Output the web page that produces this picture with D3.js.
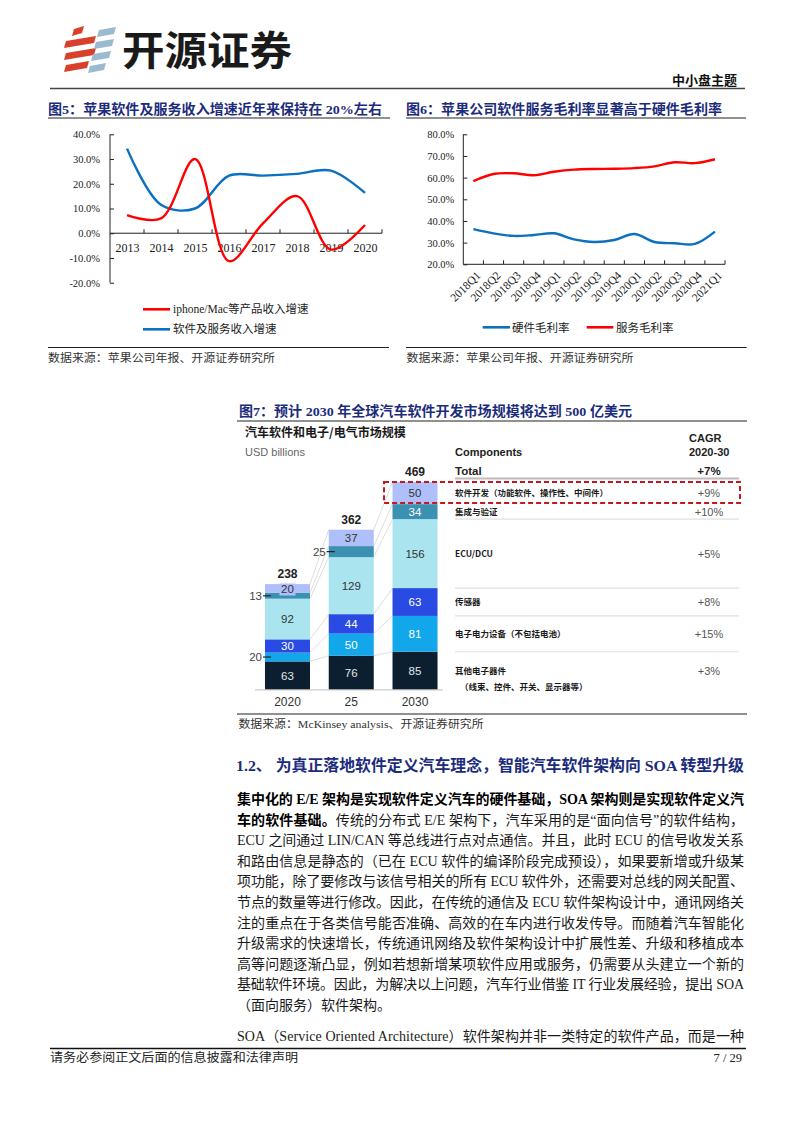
<!DOCTYPE html>
<html><head><meta charset="utf-8">
<script src="https://cdn.jsdelivr.net/npm/d3@7"></script>
<style>body{margin:0;background:#fff}svg{display:block}</style>
</head><body><svg id="c" width="794" height="1123"></svg>
<script>
// ---------------- DATA ----------------
const years5 = ['2013','2014','2015','2016','2017','2018','2019','2020'];
const hwGrowth5 = [7.3, 6.0, 30.0, -11.3, 4.0, 15.0, -6.6, 3.3];      // iphone/Mac等产品收入增速
const svcGrowth5 = [34.2, 11.5, 10.0, 23.3, 23.3, 24.0, 25.3, 16.3];  // 软件及服务收入增速
const yTicks5 = [-20, -10, 0, 10, 20, 30, 40];

const quarters6 = ['2018Q1','2018Q2','2018Q3','2018Q4','2019Q1','2019Q2','2019Q3','2019Q4','2020Q1','2020Q2','2020Q3','2020Q4','2021Q1'];
const hwMargin6 = [36.2, 34.3, 33.1, 33.5, 34.3, 31.5, 30.3, 31.2, 34.0, 30.3, 29.7, 29.4, 35.1];
const svcMargin6 = [58.4, 61.7, 62.0, 61.1, 62.7, 63.7, 64.0, 64.1, 64.4, 65.2, 67.1, 66.7, 68.5];
const yTicks6 = [20, 30, 40, 50, 60, 70, 80];

const years7 = ['2020', '25', '2030'];
const totals7 = [238, 362, 469];
const segOther7 = [63, 76, 85];
const segPower7 = [20, 50, 81];
const segSensor7 = [30, 44, 63];
const segEcu7 = [92, 129, 156];
const segInteg7 = [13, 25, 34];
const segSw7 = [20, 37, 50];
const compKeys7 = ['other', 'power', 'sensor', 'ecu', 'integ', 'sw'];
const compNames7 = ['其他电子器件', '电子电力设备（不包括电池）', '传感器', 'ECU/DCU', '集成与验证', '软件开发（功能软件、操作性、中间件）'];
const cagr7 = ['+3%', '+15%', '+8%', '+5%', '+10%', '+9%'];
const totalCagr7 = '+7%';

// ---------------- SETUP ----------------
const svg = d3.select('#c');
const SERIF = '"Liberation Serif","Times New Roman","Noto Sans CJK SC",serif';
const SANS = '"Liberation Sans",Arial,"Noto Sans CJK SC",sans-serif';
const CJK = '"Noto Sans CJK SC","Liberation Sans",sans-serif';
const TITLE_C = '#1c2c7c';
const RED = '#ff0000', BLUE = '#0a70c0';

function txt(g, x, y, s, o = {}) {
  const t = g.append('text').attr('x', x).attr('y', y).text(s)
    .attr('font-family', o.ff || SERIF).attr('font-size', o.fs || 12)
    .attr('fill', o.fill || '#222').attr('text-anchor', o.anchor || 'start');
  if (o.fw) t.attr('font-weight', o.fw);
  if (o.len) t.attr('textLength', o.len).attr('lengthAdjust', 'spacingAndGlyphs');
  return t;
}
function hline(x1, x2, y, c, w) {
  svg.append('line').attr('x1', x1).attr('x2', x2).attr('y1', y).attr('y2', y)
    .attr('stroke', c).attr('stroke-width', w);
}

// ---------------- HEADER ----------------
const logo = svg.append('g');
const redBars = [
  [[74,29],[84,26],[82,33],[72,36]],
  [[66,41],[96,36],[94,43],[64,48]],
  [[66,53],[96,48],[94,55],[64,60]],
  [[66,65],[89,61],[87,68],[64,72]]
];
const blueBars = [
  [[99,30],[116,27],[114,34],[97,37]],
  [[96,42],[114,39],[112,46],[94,49]],
  [[93,54],[111,51],[109,58],[91,61]],
  [[90,66],[106,63],[104,70],[88,73]]
];
redBars.forEach(p => logo.append('polygon').attr('points', p.join(' ')).attr('fill', '#d8402c'));
blueBars.forEach(p => logo.append('polygon').attr('points', p.join(' ')).attr('fill', '#9bbad0'));
txt(svg, 122, 65, '开源证券', {ff: CJK, fs: 40, fw: 'bold', fill: '#1a1a1a', len: 170});
txt(svg, 737, 85, '中小盘主题', {ff: CJK, fs: 13, fw: 'bold', fill: '#111', anchor: 'end', len: 65});
hline(50, 745, 88.5, '#444', 1.6);

// ---------------- CHART 5 ----------------
txt(svg, 48, 113.5, '图5：苹果软件及服务收入增速近年来保持在 20%左右', {fs: 13.5, fw: 'bold', fill: TITLE_C, len: 334});
hline(48, 390, 118, '#222', 1.2);

const c5 = svg.append('g');
const x5 = d3.scalePoint().domain(years5).range([110, 382]).padding(0.5);
const x5b = d3.scaleBand().domain(years5).range([110, 382]);
const y5 = d3.scaleLinear().domain([-20, 40]).range([282.7, 134.3]);

const ya5 = c5.append('g').attr('transform', 'translate(110,0)')
  .call(d3.axisLeft(y5).tickValues(yTicks5).tickSize(-4).tickPadding(10).tickFormat(d => d.toFixed(1) + '%'));
ya5.select('.domain').attr('stroke', '#222').attr('d', `M0,${y5(-20)}V${y5(40)}`);
ya5.selectAll('.tick line').attr('stroke', '#222');
ya5.selectAll('text').attr('font-family', SERIF).attr('font-size', 10.5).attr('fill', '#222');

const xa5 = c5.append('g').attr('transform', `translate(0,${y5(0)})`)
  .call(d3.axisBottom(x5).tickSize(0).tickPadding(10));
xa5.select('.domain').attr('stroke', '#222').attr('d', `M110,0H382`);
xa5.selectAll('text').attr('font-family', SERIF).attr('font-size', 12).attr('fill', '#222');
years5.forEach(d => {
  c5.append('line').attr('x1', x5b(d) + x5b.bandwidth()).attr('x2', x5b(d) + x5b.bandwidth())
    .attr('y1', y5(0)).attr('y2', y5(0) - 4).attr('stroke', '#222');
});

const line5 = d3.line().x((d, i) => x5(years5[i])).y(d => y5(d)).curve(d3.curveCatmullRom.alpha(0.5));
c5.append('path').attr('d', line5(svcGrowth5)).attr('fill', 'none').attr('stroke', BLUE).attr('stroke-width', 2.4);
c5.append('path').attr('d', line5(hwGrowth5)).attr('fill', 'none').attr('stroke', RED).attr('stroke-width', 2.4);

// legend
[[RED, 'iphone/Mac等产品收入增速', 309.3], [BLUE, '软件及服务收入增速', 329.3]].forEach(([c, s, y]) => {
  c5.append('line').attr('x1', 143).attr('x2', 170).attr('y1', y).attr('y2', y).attr('stroke', c).attr('stroke-width', 2.6);
  txt(c5, 173, y + 4, s, {fs: 11.5, fill: '#222'});
});
hline(48, 389, 347.5, '#222', 1.2);
txt(svg, 48, 362, '数据来源：苹果公司年报、开源证券研究所', {fs: 11, fill: '#333', len: 227});

// ---------------- CHART 6 ----------------
txt(svg, 406, 113.5, '图6：苹果公司软件服务毛利率显著高于硬件毛利率', {fs: 13.5, fw: 'bold', fill: TITLE_C, len: 316});
hline(406, 746, 118, '#222', 1.2);

const c6 = svg.append('g');
const x6 = d3.scaleBand().domain(quarters6).range([463.3, 725]);
const y6 = d3.scaleLinear().domain([20, 80]).range([264.3, 134.3]);
const ya6 = c6.append('g').attr('transform', 'translate(463.3,0)')
  .call(d3.axisLeft(y6).tickValues(yTicks6).tickSize(-4).tickPadding(9).tickFormat(d => d.toFixed(1) + '%'));
ya6.select('.domain').attr('stroke', '#222').attr('d', `M0,${y6(20)}V${y6(80)}`);
ya6.selectAll('.tick line').attr('stroke', '#222');
ya6.selectAll('text').attr('font-family', SERIF).attr('font-size', 10.5).attr('fill', '#222');

hline(463.3, 725, y6(20), '#222', 1);
quarters6.forEach(d => {
  const xe = x6(d) + x6.bandwidth();
  c6.append('line').attr('x1', xe).attr('x2', xe).attr('y1', y6(20)).attr('y2', y6(20) - 4).attr('stroke', '#222');
  const cx = x6(d) + x6.bandwidth() / 2;
  c6.append('text').attr('transform', `translate(${cx + 5},${y6(20) + 9}) rotate(-45)`)
    .attr('text-anchor', 'end').attr('dy', '0.35em').text(d)
    .attr('font-family', SERIF).attr('font-size', 11.5).attr('fill', '#222');
});
const line6 = d3.line().x((d, i) => x6(quarters6[i]) + x6.bandwidth() / 2).y(d => y6(d)).curve(d3.curveCatmullRom.alpha(0.5));
c6.append('path').attr('d', line6(hwMargin6)).attr('fill', 'none').attr('stroke', BLUE).attr('stroke-width', 2.4);
c6.append('path').attr('d', line6(svcMargin6)).attr('fill', 'none').attr('stroke', RED).attr('stroke-width', 2.4);

[[BLUE, '硬件毛利率', 482.7, 510, 512], [RED, '服务毛利率', 586.7, 613.3, 616]].forEach(([c, s, a, b, tx]) => {
  c6.append('line').attr('x1', a).attr('x2', b).attr('y1', 327.3).attr('y2', 327.3).attr('stroke', c).attr('stroke-width', 2.6);
  txt(c6, tx, 331.5, s, {fs: 11.5, fill: '#222'});
});
hline(406, 746.7, 347.5, '#222', 1.2);
txt(svg, 406.5, 362, '数据来源：苹果公司年报、开源证券研究所', {fs: 11, fill: '#333', len: 227});

// ---------------- CHART 7 ----------------
txt(svg, 239, 415.5, '图7：预计 2030 年全球汽车软件开发市场规模将达到 500 亿美元', {fs: 13.5, fw: 'bold', fill: TITLE_C, len: 393});
hline(237, 747, 421, '#222', 1.2);

const c7 = svg.append('g');
txt(c7, 245, 437, '汽车软件和电子/电气市场规模', {ff: CJK, fs: 12, fw: 'bold', fill: '#1a1a1a'});
txt(c7, 245, 455.5, 'USD billions', {ff: SANS, fs: 11, fill: '#666'});
txt(c7, 455, 455.5, 'Components', {ff: SANS, fs: 11, fw: 'bold', fill: '#222'});
txt(c7, 689, 441.5, 'CAGR', {ff: SANS, fs: 11, fw: 'bold', fill: '#222'});
txt(c7, 689, 455.5, '2020-30', {ff: SANS, fs: 11, fw: 'bold', fill: '#222'});
txt(c7, 455, 475, 'Total', {ff: SANS, fs: 11.5, fw: 'bold', fill: '#222'});
txt(c7, 709, 475, totalCagr7, {ff: SANS, fs: 11.5, fw: 'bold', fill: '#222', anchor: 'middle'});
c7.append('line').attr('x1', 455).attr('x2', 739).attr('y1', 478.5).attr('y2', 478.5).attr('stroke', '#bbb').attr('stroke-width', 2);

const rows7 = years7.map((y, j) => ({year: y, other: segOther7[j], power: segPower7[j], sensor: segSensor7[j], ecu: segEcu7[j], integ: segInteg7[j], sw: segSw7[j]}));
const stack7 = d3.stack().keys(compKeys7)(rows7);
const x7 = d3.scaleBand().domain(years7).range([255.6, 446.9]).paddingInner(0.294).paddingOuter(0.147);
const y7 = d3.scaleLinear().domain([0, 500]).range([689.3, 689.3 - 221]);
const bw = x7.bandwidth();
const colors7 = {other: '#0b1f30', power: '#12a6ea', sensor: '#2a4ae4', ecu: '#aae4ef', integ: '#3b91b2', sw: '#afbff9'};
const labCol7 = {other: '#e6e6e6', power: '#ffffff', sensor: '#ffffff', ecu: '#333', integ: '#ffffff', sw: '#333'};

// connectors
for (let j = 0; j < years7.length - 1; j++) {
  stack7.forEach(layer => {
    c7.append('line')
      .attr('x1', x7(years7[j]) + bw).attr('y1', y7(layer[j][1]))
      .attr('x2', x7(years7[j + 1])).attr('y2', y7(layer[j + 1][1]))
      .attr('stroke', '#d4d4d4').attr('stroke-width', 0.8);
  });
}
// axis baseline
c7.append('line').attr('x1', 255).attr('x2', 443).attr('y1', y7(0) + 0.5).attr('y2', y7(0) + 0.5).attr('stroke', '#ccc').attr('stroke-width', 1.2);

stack7.forEach(layer => {
  const k = layer.key;
  c7.selectAll(null).data(layer).enter().append('rect')
    .attr('x', (d, j) => x7(years7[j])).attr('width', bw)
    .attr('y', d => y7(d[1])).attr('height', d => y7(d[0]) - y7(d[1]))
    .attr('fill', colors7[k]);
});
stack7.forEach(layer => {
  const k = layer.key;
  layer.forEach((d, j) => {
    const v = d[1] - d[0];
    const h = y7(d[0]) - y7(d[1]);
    const cx = x7(years7[j]) + bw / 2;
    const cy = (y7(d[0]) + y7(d[1])) / 2;
    if (h < 12 && k !== 'sw') {
      const xl = x7(years7[j]);
      txt(c7, xl - 3, cy + 4, String(v), {ff: SANS, fs: 11.5, fill: '#444', anchor: 'end'});
      c7.append('line').attr('x1', xl - 2).attr('x2', xl + 6).attr('y1', cy).attr('y2', cy).attr('stroke', '#222').attr('stroke-width', 1.2);
    } else {
      if (h < 12) {
        c7.append('rect').attr('x', cx - 8).attr('y', cy - 5).attr('width', 16).attr('height', 12).attr('fill', colors7[k]);
      }
      txt(c7, cx, cy + 4.2, String(v), {ff: SANS, fs: 11.5, fill: labCol7[k], anchor: 'middle'});
    }
  });
});
totals7.forEach((t, j) => {
  txt(c7, x7(years7[j]) + bw / 2, y7(stack7[stack7.length - 1][j][1]) - 6, String(t), {ff: SANS, fs: 12, fw: 'bold', fill: '#222', anchor: 'middle'});
  txt(c7, x7(years7[j]) + bw / 2, 706, years7[j], {ff: SANS, fs: 12, fill: '#333', anchor: 'middle'});
});

// table rows aligned with 2030 segments
const last = years7.length - 1;
stack7.forEach((layer, i) => {
  const d = layer[last];
  const cy = (y7(d[0]) + y7(d[1])) / 2;
  if (i < stack7.length - 2) {
    c7.append('line').attr('x1', 455).attr('x2', 739).attr('y1', y7(d[1])).attr('y2', y7(d[1])).attr('stroke', '#e0e0e0').attr('stroke-width', 1.2);
  }
  txt(c7, 455, cy + 3, compNames7[i], {ff: CJK, fs: 8.5, fw: 'bold', fill: '#1a1a1a'});
  txt(c7, 709, cy + 4, cagr7[i], {ff: SANS, fs: 11, fill: '#555', anchor: 'middle'});
  if (layer.key === 'other') {
    txt(c7, 460, cy + 19, '（线束、控件、开关、显示器等）', {ff: CJK, fs: 8.5, fw: 'bold', fill: '#1a1a1a'});
  }
});
// dashed highlight box around software row
const swTop = y7(stack7[stack7.length - 1][last][1]);
const swBot = y7(stack7[stack7.length - 1][last][0]);
c7.append('rect').attr('x', 384).attr('y', swTop).attr('width', 356).attr('height', swBot - swTop - 1)
  .attr('fill', 'none').attr('stroke', '#c8161d').attr('stroke-width', 2).attr('stroke-dasharray', '5,3');

hline(237, 747, 714, '#222', 1.2);
txt(svg, 238.5, 728, '数据来源：McKinsey analysis、开源证券研究所', {fs: 11, fill: '#333', len: 245});

// ---------------- BODY TEXT ----------------
txt(svg, 236, 771, '1.2、 为真正落地软件定义汽车理念，智能汽车软件架构向 SOA 转型升级', {fs: 15.5, fw: 'bold', fill: TITLE_C, len: 508});

const bodyLines = [
  [['集中化的 E/E 架构是实现软件定义汽车的硬件基础，SOA 架构则是实现软件定义汽', true]],
  [['车的软件基础。', true], ['传统的分布式 E/E 架构下，汽车采用的是“面向信号”的软件结构，', false]],
  [['ECU 之间通过 LIN/CAN 等总线进行点对点通信。并且，此时 ECU 的信号收发关系', false]],
  [['和路由信息是静态的（已在 ECU 软件的编译阶段完成预设），如果要新增或升级某', false]],
  [['项功能，除了要修改与该信号相关的所有 ECU 软件外，还需要对总线的网关配置、', false]],
  [['节点的数量等进行修改。因此，在传统的通信及 ECU 软件架构设计中，通讯网络关', false]],
  [['注的重点在于各类信号能否准确、高效的在车内进行收发传导。而随着汽车智能化', false]],
  [['升级需求的快速增长，传统通讯网络及软件架构设计中扩展性差、升级和移植成本', false]],
  [['高等问题逐渐凸显，例如若想新增某项软件应用或服务，仍需要从头建立一个新的', false]],
  [['基础软件环境。因此，为解决以上问题，汽车行业借鉴 IT 行业发展经验，提出 SOA', false]],
  [['（面向服务）软件架构。', false]]
];
bodyLines.forEach((segs, i) => {
  const t = svg.append('text').attr('x', 237).attr('y', 804 + i * 20.6)
    .attr('font-family', SERIF).attr('font-size', 14).attr('fill', '#1a1a1a');
  if (i < bodyLines.length - 1) t.attr('textLength', 507).attr('lengthAdjust', 'spacing');
  segs.forEach(([s, b]) => {
    const ts = t.append('tspan').text(s);
    if (b) ts.attr('font-weight', 'bold').attr('fill', '#000');
  });
});
svg.append('text').attr('x', 237).attr('y', 1041).attr('font-family', SERIF).attr('font-size', 14).attr('fill', '#1a1a1a')
  .attr('textLength', 507).attr('lengthAdjust', 'spacing')
  .text('SOA（Service Oriented Architecture）软件架构并非一类特定的软件产品，而是一种');

// ---------------- FOOTER ----------------
hline(50, 746, 1048.5, '#111', 1.4);
txt(svg, 50, 1062, '请务必参阅正文后面的信息披露和法律声明', {fs: 12, fill: '#222', len: 248});
txt(svg, 742, 1062, '7 / 29', {fs: 12.5, fill: '#222', anchor: 'end'});
</script></body></html>
